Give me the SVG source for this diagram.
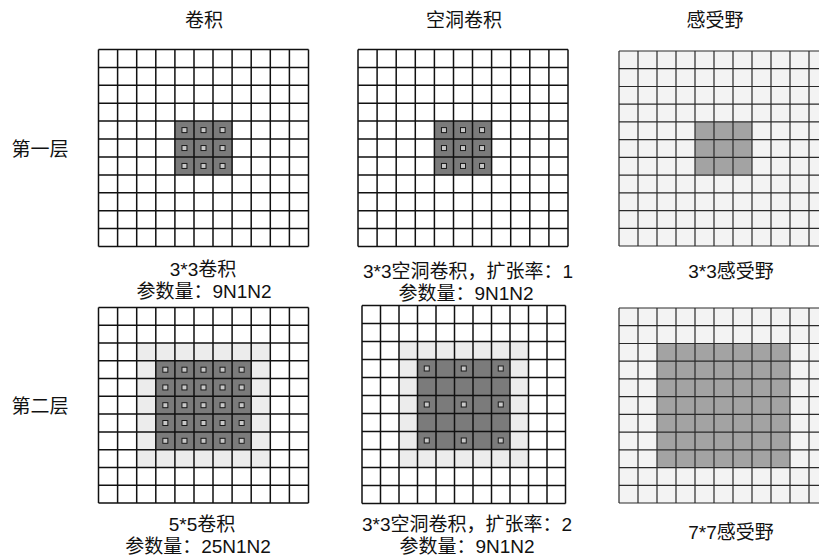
<svg xmlns="http://www.w3.org/2000/svg" xmlns:xlink="http://www.w3.org/1999/xlink" width="819" height="559" viewBox="0 0 819 559">
<style>
.t{font-family:"Liberation Sans","Noto Sans CJK SC",sans-serif;font-size:19px;fill:#111;text-anchor:middle}
.g{fill:none;stroke:#111;stroke-width:1.5}
.g3{fill:none;stroke:#2a2a2a;stroke-width:1.2}
.wh{fill:#fff}
.bg3{fill:#f3f3f3}
.lt{fill:#ececec}
.dk{fill:#7b7b7b}
.dk3{fill:#a3a3a3}
.dot{fill:#c8c8c8;stroke:#1a1a1a;stroke-width:1}
</style>
<defs>
<rect id="dot" x="-2.5" y="-2.5" width="5" height="5" class="dot"/>
</defs>
<rect width="819" height="559" fill="#fff"/>

<g id="titles">
<text class="t" x="204" y="27">卷积</text>
<text class="t" x="464" y="27">空洞卷积</text>
<text class="t" x="715" y="27">感受野</text>
<text class="t" x="40" y="156">第一层</text>
<text class="t" x="40" y="413">第二层</text>
</g>

<g id="conv1">
<rect class="wh" x="98.5" y="49.5" width="210" height="197"/>
<rect class="dk" x="174.9" y="121.1" width="57.2" height="53.8"/>
<path class="g" d="M98.5 49.5V246.5M117.6 49.5V246.5M136.7 49.5V246.5M155.8 49.5V246.5M174.9 49.5V246.5M194 49.5V246.5M213 49.5V246.5M232.1 49.5V246.5M251.2 49.5V246.5M270.3 49.5V246.5M289.4 49.5V246.5M308.5 49.5V246.5M98.5 49.5H308.5M98.5 67.4H308.5M98.5 85.3H308.5M98.5 103.2H308.5M98.5 121.1H308.5M98.5 139.1H308.5M98.5 157H308.5M98.5 174.9H308.5M98.5 192.8H308.5M98.5 210.7H308.5M98.5 228.6H308.5M98.5 246.5H308.5"/>
<use href="#dot" x="184.45" y="130.1"/><use href="#dot" x="203.5" y="130.1"/><use href="#dot" x="222.55" y="130.1"/>
<use href="#dot" x="184.45" y="148.05"/><use href="#dot" x="203.5" y="148.05"/><use href="#dot" x="222.55" y="148.05"/>
<use href="#dot" x="184.45" y="165.95"/><use href="#dot" x="203.5" y="165.95"/><use href="#dot" x="222.55" y="165.95"/>
<text class="t" x="203" y="276">3*3卷积</text>
<text class="t" x="204" y="298">参数量：9N1N2</text>
</g>

<g id="dilated1">
<rect class="wh" x="358" y="49.5" width="210" height="197"/>
<rect class="dk" x="434.4" y="121.1" width="57.2" height="53.8"/>
<path class="g" d="M358 49.5V246.5M377.1 49.5V246.5M396.2 49.5V246.5M415.3 49.5V246.5M434.4 49.5V246.5M453.5 49.5V246.5M472.5 49.5V246.5M491.6 49.5V246.5M510.7 49.5V246.5M529.8 49.5V246.5M548.9 49.5V246.5M568 49.5V246.5M358 49.5H568M358 67.4H568M358 85.3H568M358 103.2H568M358 121.1H568M358 139.1H568M358 157H568M358 174.9H568M358 192.8H568M358 210.7H568M358 228.6H568M358 246.5H568"/>
<use href="#dot" x="443.95" y="130.1"/><use href="#dot" x="463" y="130.1"/><use href="#dot" x="482.05" y="130.1"/>
<use href="#dot" x="443.95" y="148.05"/><use href="#dot" x="463" y="148.05"/><use href="#dot" x="482.05" y="148.05"/>
<use href="#dot" x="443.95" y="165.95"/><use href="#dot" x="463" y="165.95"/><use href="#dot" x="482.05" y="165.95"/>
<text class="t" x="468" y="278">3*3空洞卷积，扩张率：1</text>
<text class="t" x="466" y="300">参数量：9N1N2</text>
</g>

<g id="field1">
<rect class="bg3" x="619" y="51" width="209" height="195"/>
<rect class="dk3" x="695" y="121.9" width="57" height="53.2"/>
<path class="g3" d="M619 51V246M638 51V246M657 51V246M676 51V246M695 51V246M714 51V246M733 51V246M752 51V246M771 51V246M790 51V246M809 51V246M619 51H828M619 68.7H828M619 86.5H828M619 104.2H828M619 121.9H828M619 139.6H828M619 157.4H828M619 175.1H828M619 192.8H828M619 210.6H828M619 228.3H828M619 246H828"/>
<text class="t" x="731" y="278">3*3感受野</text>
</g>

<g id="conv2">
<rect class="wh" x="98.5" y="307.5" width="210" height="195.5"/>
<rect class="lt" x="136.7" y="343" width="133.6" height="124.4"/>
<rect class="dk" x="155.8" y="360.8" width="95.4" height="88.9"/>
<path class="g" d="M98.5 307.5V503M117.6 307.5V503M136.7 307.5V503M155.8 307.5V503M174.9 307.5V503M194 307.5V503M213 307.5V503M232.1 307.5V503M251.2 307.5V503M270.3 307.5V503M289.4 307.5V503M308.5 307.5V503M98.5 307.5H308.5M98.5 325.3H308.5M98.5 343H308.5M98.5 360.8H308.5M98.5 378.6H308.5M98.5 396.3H308.5M98.5 414.1H308.5M98.5 431.9H308.5M98.5 449.7H308.5M98.5 467.4H308.5M98.5 485.2H308.5M98.5 503H308.5"/>
<use href="#dot" x="165.35" y="369.7"/><use href="#dot" x="184.45" y="369.7"/><use href="#dot" x="203.5" y="369.7"/><use href="#dot" x="222.55" y="369.7"/><use href="#dot" x="241.65" y="369.7"/>
<use href="#dot" x="165.35" y="387.45"/><use href="#dot" x="184.45" y="387.45"/><use href="#dot" x="203.5" y="387.45"/><use href="#dot" x="222.55" y="387.45"/><use href="#dot" x="241.65" y="387.45"/>
<use href="#dot" x="165.35" y="405.2"/><use href="#dot" x="184.45" y="405.2"/><use href="#dot" x="203.5" y="405.2"/><use href="#dot" x="222.55" y="405.2"/><use href="#dot" x="241.65" y="405.2"/>
<use href="#dot" x="165.35" y="423"/><use href="#dot" x="184.45" y="423"/><use href="#dot" x="203.5" y="423"/><use href="#dot" x="222.55" y="423"/><use href="#dot" x="241.65" y="423"/>
<use href="#dot" x="165.35" y="440.8"/><use href="#dot" x="184.45" y="440.8"/><use href="#dot" x="203.5" y="440.8"/><use href="#dot" x="222.55" y="440.8"/><use href="#dot" x="241.65" y="440.8"/>
<text class="t" x="202" y="531">5*5卷积</text>
<text class="t" x="198" y="553">参数量：25N1N2</text>
</g>

<g id="dilated2">
<rect class="wh" x="362" y="305.5" width="203.5" height="198"/>
<rect class="lt" x="399" y="341.5" width="129.5" height="126"/>
<rect class="dk" x="417.5" y="359.5" width="92.5" height="90"/>
<path class="g" d="M362 305.5V503.5M380.5 305.5V503.5M399 305.5V503.5M417.5 305.5V503.5M436 305.5V503.5M454.5 305.5V503.5M473 305.5V503.5M491.5 305.5V503.5M510 305.5V503.5M528.5 305.5V503.5M547 305.5V503.5M565.5 305.5V503.5M362 305.5H565.5M362 323.5H565.5M362 341.5H565.5M362 359.5H565.5M362 377.5H565.5M362 395.5H565.5M362 413.5H565.5M362 431.5H565.5M362 449.5H565.5M362 467.5H565.5M362 485.5H565.5M362 503.5H565.5"/>
<use href="#dot" x="426.75" y="368.5"/><use href="#dot" x="463.75" y="368.5"/><use href="#dot" x="500.75" y="368.5"/>
<use href="#dot" x="426.75" y="404.5"/><use href="#dot" x="463.75" y="404.5"/><use href="#dot" x="500.75" y="404.5"/>
<use href="#dot" x="426.75" y="440.5"/><use href="#dot" x="463.75" y="440.5"/><use href="#dot" x="500.75" y="440.5"/>
<text class="t" x="467" y="531">3*3空洞卷积，扩张率：2</text>
<text class="t" x="467" y="553">参数量：9N1N2</text>
</g>

<g id="field2">
<rect class="bg3" x="619" y="308" width="209" height="195"/>
<rect class="dk3" x="657" y="343.5" width="133" height="124.1"/>
<path class="g3" d="M619 308V503M638 308V503M657 308V503M676 308V503M695 308V503M714 308V503M733 308V503M752 308V503M771 308V503M790 308V503M809 308V503M619 308H828M619 325.7H828M619 343.5H828M619 361.2H828M619 378.9H828M619 396.6H828M619 414.4H828M619 432.1H828M619 449.8H828M619 467.6H828M619 485.3H828M619 503H828"/>
<text class="t" x="731" y="539">7*7感受野</text>
</g>
</svg>
